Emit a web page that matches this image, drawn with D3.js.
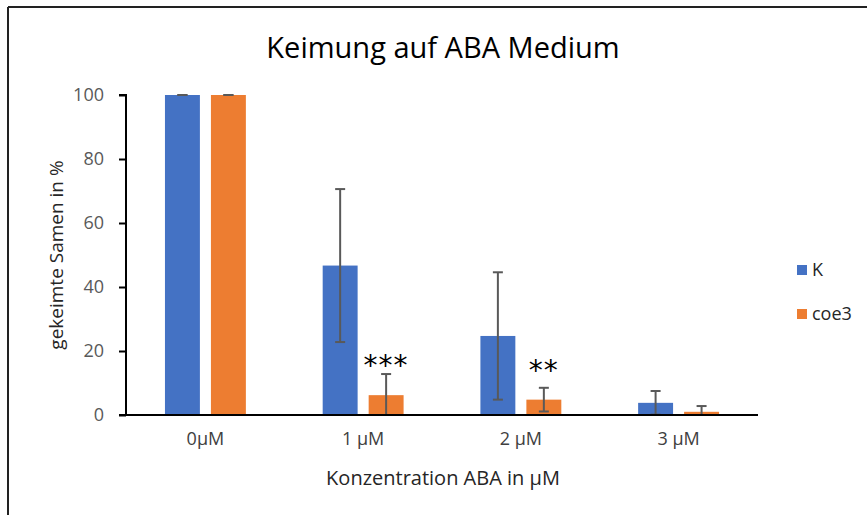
<!DOCTYPE html>
<html>
<head>
<meta charset="utf-8">
<script src="https://cdn.jsdelivr.net/npm/d3@7"></script>
<style>
  html, body { margin: 0; padding: 0; background: #fff; }
  svg { display: block; font-family: "Open Sans", "Noto Sans", sans-serif; }
</style>
</head>
<body>
<svg id="chart" width="867" height="515"></svg>
<script>
// Germination on ABA medium: mean percentage and standard deviation
const categories = ["0µM", "1 µM", "2 µM", "3 µM"];
const seriesNames = ["K", "coe3"];
const valuesK    = [100, 46.7, 24.7, 3.8];
const errorsK    = [0, 23.9, 19.9, 3.7];
const valuesCoe3 = [100, 6.2, 4.8, 1.0];
const errorsCoe3 = [0, 6.6, 3.7, 1.8];
const significance = ["", "***", "**", ""];
// height (in %) at which each significance mark is centred
const significanceLevel = [0, 17.5, 16, 0];
const yTicks = [0, 20, 40, 60, 80, 100];

const colors = { "K": "#4472C4", "coe3": "#ED7D31" };

const svg = d3.select("#chart");

// chart frame (top and left edges)
svg.append("line").attr("x1", 8).attr("x2", 867).attr("y1", 7).attr("y2", 7)
  .attr("stroke", "#222").attr("stroke-width", 2);
svg.append("line").attr("x1", 8).attr("x2", 8).attr("y1", 7).attr("y2", 515)
  .attr("stroke", "#222").attr("stroke-width", 2);

const plot = { left: 126, right: 758, top: 95, bottom: 415 };

const x = d3.scaleBand().domain(categories).range([plot.left, plot.right])
  .paddingInner(0.487).paddingOuter(0.247);
const xSub = d3.scaleBand().domain(seriesNames).range([0, x.bandwidth()]).paddingInner(0.24);
const y = d3.scaleLinear().domain([0, 100]).range([plot.bottom, plot.top]);

const rows = categories.map((c, i) => ({
  cat: c,
  sig: significance[i],
  sigLevel: significanceLevel[i],
  bars: [
    { s: "K", v: valuesK[i], e: errorsK[i] },
    { s: "coe3", v: valuesCoe3[i], e: errorsCoe3[i] }
  ]
}));

// bars
const groups = svg.append("g").selectAll("g").data(rows).join("g")
  .attr("transform", d => `translate(${x(d.cat)},0)`);

groups.selectAll("rect").data(d => d.bars).join("rect")
  .attr("x", d => xSub(d.s))
  .attr("width", xSub.bandwidth())
  .attr("y", d => y(d.v))
  .attr("height", d => y(0) - y(d.v))
  .attr("fill", d => colors[d.s]);

// error bars (clipped at the baseline)
const eb = groups.selectAll("g.err").data(d => d.bars).join("g").attr("class", "err")
  .attr("stroke", "#595959").attr("stroke-width", 2);
eb.each(function(d) {
  const g = d3.select(this);
  const cx = xSub(d.s) + xSub.bandwidth() / 2;
  const hi = y(d.v + d.e);
  const loVal = d.v - d.e;
  const lo = y(Math.max(0, loVal));
  g.append("line").attr("x1", cx).attr("x2", cx).attr("y1", hi).attr("y2", lo);
  g.append("line").attr("x1", cx - 5).attr("x2", cx + 5).attr("y1", hi).attr("y2", hi);
  if (loVal > 0) {
    g.append("line").attr("x1", cx - 5).attr("x2", cx + 5).attr("y1", lo).attr("y2", lo);
  }
});

// significance marks above the coe3 bars
groups.filter(d => d.sig).append("text")
  .attr("x", xSub("coe3") + xSub.bandwidth() / 2)
  .attr("y", d => y(d.sigLevel) + 16)
  .attr("text-anchor", "middle")
  .attr("font-size", 28)
  .attr("font-family", "'DejaVu Sans', sans-serif")
  .attr("fill", "#000")
  .attr("letter-spacing", 1)
  .text(d => d.sig);

// y axis
const yAxis = svg.append("g").attr("transform", `translate(${plot.left},0)`)
  .call(d3.axisLeft(y).tickValues(yTicks).tickSize(7).tickPadding(15));
yAxis.select(".domain").attr("stroke", "#000").attr("stroke-width", 2).attr("d", `M-7,${plot.top}H0V${plot.bottom}`);
yAxis.selectAll(".tick line").attr("stroke", "#000").attr("stroke-width", 2);
yAxis.selectAll(".tick text").attr("fill", "#595959").attr("font-size", 18)
  .attr("font-family", "'Open Sans', sans-serif");

// x axis
const xAxis = svg.append("g").attr("transform", `translate(0,${plot.bottom})`)
  .call(d3.axisBottom(x).tickSize(0).tickPadding(17));
xAxis.select(".domain").attr("stroke", "#000").attr("stroke-width", 2).attr("d", `M${plot.left - 7},0H${plot.right}`);
xAxis.selectAll(".tick text").attr("fill", "#404040").attr("font-size", 18)
  .attr("font-family", "'Open Sans', sans-serif");

// titles
svg.append("text").attr("x", 443).attr("y", 58).attr("text-anchor", "middle")
  .attr("font-size", 29).attr("fill", "#000").text("Keimung auf ABA Medium");

svg.append("text").attr("x", 443).attr("y", 485).attr("text-anchor", "middle")
  .attr("font-size", 20).attr("fill", "#262626").text("Konzentration ABA in µM");

svg.append("text").attr("transform", "translate(63,255) rotate(-90)").attr("text-anchor", "middle")
  .attr("font-size", 19).attr("fill", "#262626").text("gekeimte Samen in %");

// legend
const legend = svg.append("g").selectAll("g").data(seriesNames).join("g")
  .attr("transform", (d, i) => `translate(797,${270 + i * 44})`);
legend.append("rect").attr("x", 0).attr("y", -5).attr("width", 10).attr("height", 10)
  .attr("fill", d => colors[d]);
legend.append("text").attr("x", 15).attr("y", 6).attr("font-size", 18).attr("fill", "#262626").text(d => d);
</script>
</body>
</html>
